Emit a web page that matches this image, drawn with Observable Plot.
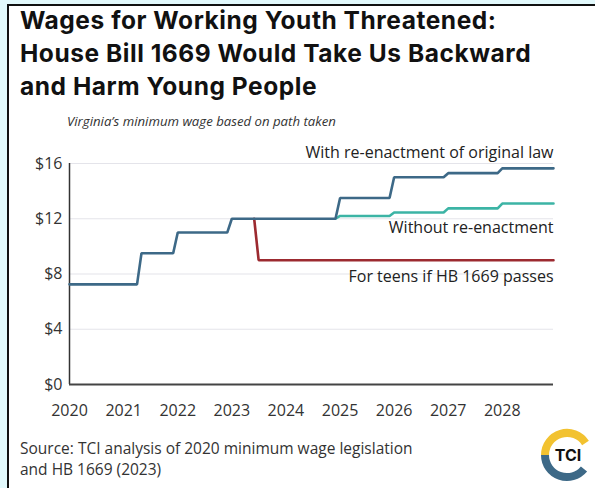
<!DOCTYPE html>
<html><head><meta charset="utf-8">
<script src="https://cdn.jsdelivr.net/npm/d3@7"></script>
<script src="https://cdn.jsdelivr.net/npm/@observablehq/plot@0.6"></script>
<style>
html,body{margin:0;padding:0;width:595px;height:488px;overflow:hidden;background:#e2f9fc;position:relative;}
#card{position:absolute;left:7px;top:4px;width:620px;height:520px;background:#fff;border-left:2px solid #111;border-top:2px solid #111;}
#title{position:absolute;left:20px;top:4px;margin:0;font-family:Inter,"DejaVu Sans",sans-serif;font-weight:700;font-size:24.5px;line-height:33px;color:#111;letter-spacing:0.55px;white-space:nowrap;}
#subtitle{position:absolute;left:67px;top:112px;margin:0;font-family:"Open Sans",sans-serif;font-style:italic;font-size:13.2px;color:#333;}
#chart{position:absolute;left:0;top:130px;}
#source{position:absolute;left:20px;top:438px;margin:0;font-family:"Open Sans",sans-serif;font-size:15.5px;line-height:21.4px;color:#333;}
#logo{position:absolute;left:539px;top:426px;}
</style>
</head><body>
<div id="card"></div>
<h1 id="title">Wages for Working Youth Threatened:<br>House Bill 1669 Would Take Us Backward<br>and Harm Young People</h1>
<p id="subtitle">Virginia’s minimum wage based on path taken</p>
<div id="chart"></div>
<p id="source">Source: TCI analysis of 2020 minimum wage legislation<br>and HB 1669 (2023)</p>
<svg id="logo" width="56" height="60" viewBox="0 0 56 60">
  <path d="M6 29 A22 22 0 0 1 46.5 17" fill="none" stroke="#f2c230" stroke-width="8"/>
  <path d="M6 29 A22 22 0 0 0 45 43" fill="none" stroke="#3d6987" stroke-width="8"/>
  <text x="29" y="35" text-anchor="middle" font-family="Inter, 'DejaVu Sans', sans-serif" font-weight="700" font-size="16" fill="#111">TCI</text>
</svg>
<script>
// Series names, colours, labels
const seriesNames = ["Without re-enactment", "For teens if HB 1669 passes", "With re-enactment of original law"];
const seriesColors = ["#3cb4a5", "#9c2a30", "#3d6987"];

// With re-enactment of original law
const withDates = ["2020-01-01","2021-04-01","2021-05-01","2021-12-01","2022-01-01","2022-12-01","2023-01-01","2024-12-01","2025-01-01","2025-12-01","2026-01-01","2026-12-01","2027-01-01","2027-12-01","2028-01-01","2028-12-12"];
const withWages = [7.25,7.25,9.5,9.5,11,11,12,12,13.5,13.5,15,15,15.3,15.3,15.65,15.65];

// Without re-enactment
const withoutDates = ["2024-12-01","2025-01-01","2025-12-01","2026-01-01","2026-12-01","2027-01-01","2027-12-01","2028-01-01","2028-12-12"];
const withoutWages = [12,12.2,12.2,12.45,12.45,12.75,12.75,13.1,13.1];

// For teens if HB 1669 passes
const teenDates = ["2023-06-01","2023-07-01","2028-12-12"];
const teenWages = [12,9,9];

// Axis ticks
const yTicks = [0,4,8,12,16];
const xTickYears = ["2020","2021","2022","2023","2024","2025","2026","2027","2028"];

// Label offsets (px) from each series' end point
const labelDy = [24, 17, -15];

const toRows = (name, dates, wages) => dates.map((d, i) => ({series: name, date: new Date(d), wage: wages[i]}));
const seriesRows = [
  toRows(seriesNames[0], withoutDates, withoutWages),
  toRows(seriesNames[1], teenDates, teenWages),
  toRows(seriesNames[2], withDates, withWages)
];
const rows = seriesRows.flat();
const lastPoints = seriesRows.map(r => r[r.length - 1]);
const xTicks = xTickYears.map(y => new Date(y + "-01-01"));

const chart = Plot.plot({
  width: 595,
  height: 290,
  marginTop: 33,
  marginBottom: 36,
  marginLeft: 69,
  marginRight: 42,
  style: {fontFamily: "'Open Sans', sans-serif", fontSize: "16px", color: "#333", background: "transparent", overflow: "visible"},
  x: {type: "utc", domain: [new Date(withDates[0]), new Date(withDates[withDates.length - 1])]},
  y: {domain: [0, 16]},
  color: {domain: seriesNames, range: seriesColors},
  marks: [
    Plot.gridY(yTicks.slice(1), {stroke: "#e4e4ea", strokeOpacity: 1, strokeWidth: 1.2}),
    Plot.axisY(yTicks, {tickSize: 0, tickPadding: 7, tickFormat: d => "$" + d, label: null, fill: "#333", fontSize: 16}),
    Plot.axisX(xTicks, {tickSize: 0, tickPadding: 20, tickFormat: "%Y", label: null, fill: "#333", fontSize: 16}),
    Plot.ruleX([new Date(withDates[0])], {y1: 0, y2: 16, stroke: "#333", strokeWidth: 1.5}),
    Plot.ruleY([0], {stroke: "#444", strokeWidth: 2}),
    Plot.line(rows, {x: "date", y: "wage", z: "series", stroke: "series", strokeWidth: 2.6, strokeLinejoin: "miter"}),
    ...lastPoints.map((p, i) => Plot.text([p], {x: "date", y: "wage", text: "series", textAnchor: "end", dy: labelDy[i], fill: "#222", fontSize: 16}))
  ]
});
document.getElementById("chart").appendChild(chart);
</script>
</body></html>
